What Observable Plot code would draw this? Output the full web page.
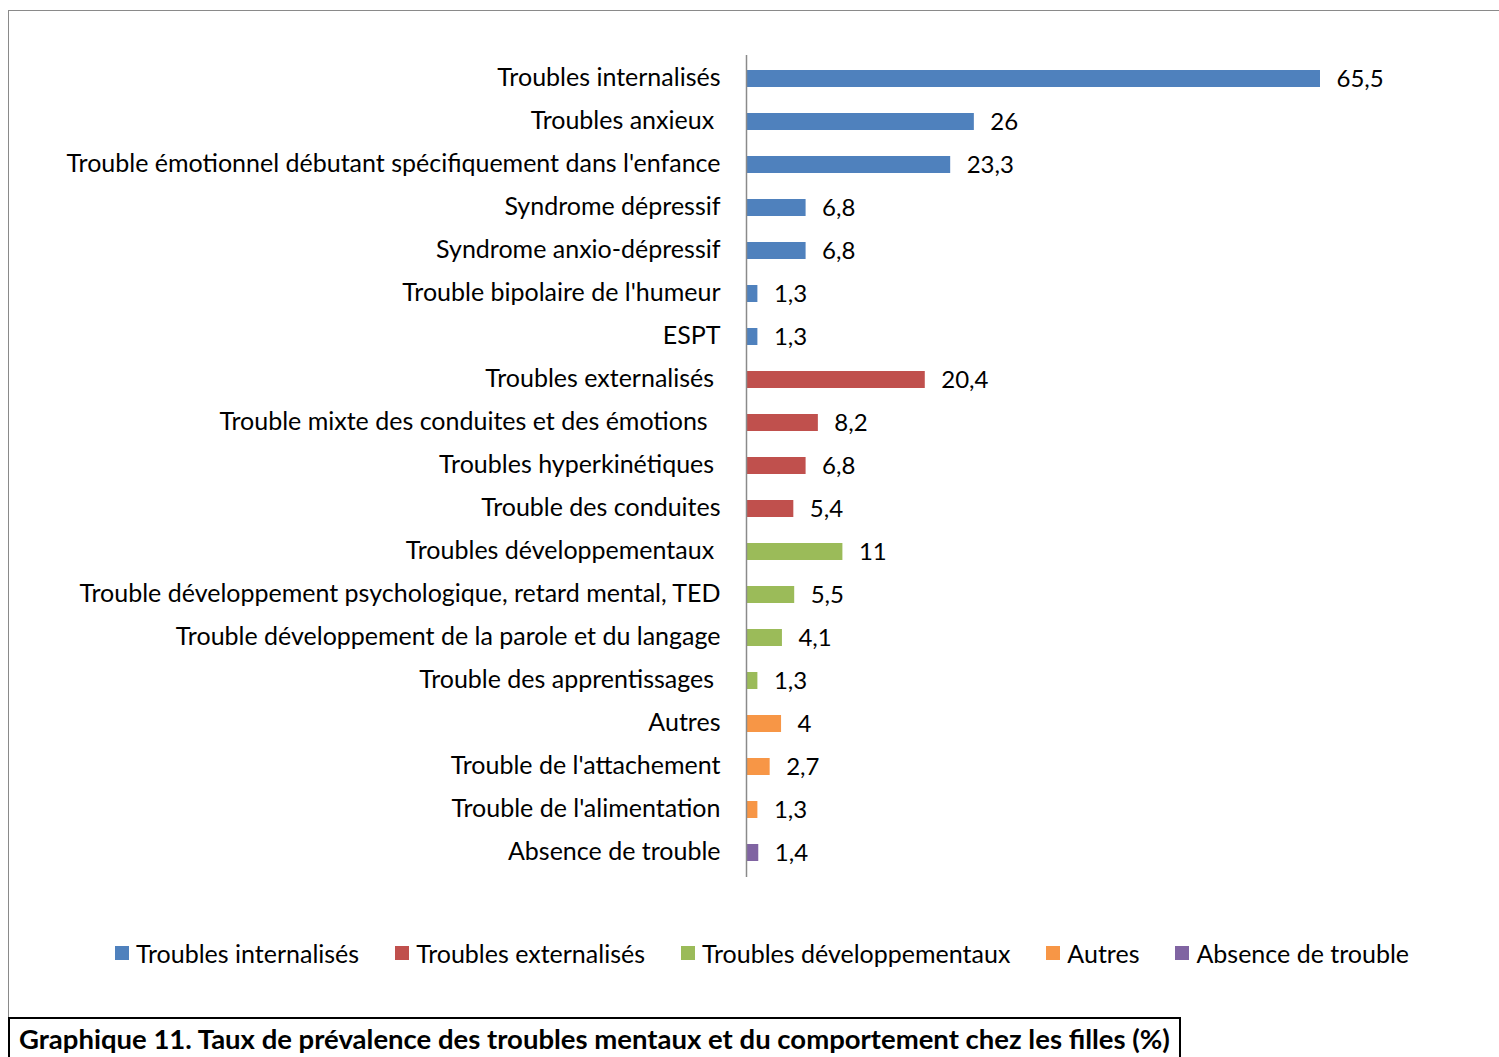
<!DOCTYPE html>
<html>
<head>
<meta charset="utf-8">
<script src="https://cdn.jsdelivr.net/npm/d3@7"></script>
<script src="https://cdn.jsdelivr.net/npm/@observablehq/plot@0.6"></script>
<style>
  html, body { margin: 0; padding: 0; background: #fff; }
  #page { position: relative; width: 1499px; height: 1057px; overflow: hidden; font-family: Lato, sans-serif; color: #000; }
  #frame { position: absolute; left: 8px; top: 10px; width: 1600px; height: 1200px; border: 1.5px solid #8a8a8a; box-sizing: border-box; pointer-events: none; }
  #chart { position: absolute; left: 0; top: 0; }
  #legend { position: absolute; left: 115px; top: 937px; display: flex; gap: 36px; font-size: 25px; line-height: 32px; white-space: nowrap; }
  #legend .item { display: flex; align-items: center; }
  #legend .sw { width: 14px; height: 14px; margin-right: 7px; display: inline-block; }
  #caption { position: absolute; left: 8px; top: 1017px; border: 2px solid #000; padding: 4px 9px 20px 9px; font-weight: bold; font-size: 27.5px; line-height: 32px; white-space: nowrap; background: #fff; }
</style>
</head>
<body>
<div id="page">
  <div id="chart"></div>
  <div id="frame"></div>
  <div id="legend"></div>
  <div id="caption"></div>
</div>
<script>
const categories = [
  "Troubles internalisés",
  "Troubles anxieux\u00a0",
  "Trouble émotionnel débutant spécifiquement dans l'enfance",
  "Syndrome dépressif",
  "Syndrome anxio-dépressif",
  "Trouble bipolaire de l'humeur",
  "ESPT",
  "Troubles externalisés\u00a0",
  "Trouble mixte des conduites et des émotions\u00a0\u00a0",
  "Troubles hyperkinétiques\u00a0",
  "Trouble des conduites",
  "Troubles développementaux\u00a0",
  "Trouble développement psychologique, retard mental, TED",
  "Trouble développement de la parole et du langage",
  "Trouble des apprentissages\u00a0",
  "Autres",
  "Trouble de l'attachement",
  "Trouble de l'alimentation",
  "Absence de trouble"
];
const values = [65.5, 26, 23.3, 6.8, 6.8, 1.3, 1.3, 20.4, 8.2, 6.8, 5.4, 11, 5.5, 4.1, 1.3, 4, 2.7, 1.3, 1.4];
const groups = [
  "Troubles internalisés","Troubles internalisés","Troubles internalisés","Troubles internalisés",
  "Troubles internalisés","Troubles internalisés","Troubles internalisés",
  "Troubles externalisés","Troubles externalisés","Troubles externalisés","Troubles externalisés",
  "Troubles développementaux","Troubles développementaux","Troubles développementaux","Troubles développementaux",
  "Autres","Autres","Autres",
  "Absence de trouble"
];
const groupNames = ["Troubles internalisés","Troubles externalisés","Troubles développementaux","Autres","Absence de trouble"];
const groupColors = ["#4F81BD","#C0504D","#9BBB59","#F79646","#8064A2"];
const captionText = "Graphique 11. Taux de prévalence des troubles mentaux et du comportement chez les filles (%)";

const data = categories.map((c, i) => ({category: c, value: values[i], group: groups[i]}));
const fmt = v => String(v).replace(".", ",");

const chart = Plot.plot({
  width: 1499,
  height: 900,
  marginTop: 55,
  marginBottom: 23,
  marginLeft: 746,
  marginRight: 179,
  style: {background: "transparent", fontFamily: "Lato, sans-serif", fontSize: "25px", color: "#000", overflow: "visible"},
  x: {domain: [0, 65.5], axis: null},
  y: {domain: categories, paddingInner: 0.6, paddingOuter: 0.3, label: null, axis: null},
  color: {domain: groupNames, range: groupColors},
  marks: [
    Plot.barX(data, {x: "value", y: "category", fill: "group"}),
    Plot.ruleX([0], {stroke: "#8a8a8a", strokeWidth: 1.5}),
    Plot.text(data, {x: "value", y: "category", text: d => fmt(d.value), dx: 16, dy: 0, textAnchor: "start", fill: "#000", fontSize: 24}),
    Plot.axisY({tickSize: 0, tickPadding: 26, fontSize: 25, fill: "#000", dy: -1, label: null})
  ]
});
document.getElementById("chart").appendChild(chart);

const legend = document.getElementById("legend");
groupNames.forEach((g, i) => {
  const item = document.createElement("div");
  item.className = "item";
  const sw = document.createElement("span");
  sw.className = "sw";
  sw.style.background = groupColors[i];
  const t = document.createElement("span");
  t.textContent = g;
  item.appendChild(sw);
  item.appendChild(t);
  legend.appendChild(item);
});
document.getElementById("caption").textContent = captionText;
</script>
</body>
</html>
